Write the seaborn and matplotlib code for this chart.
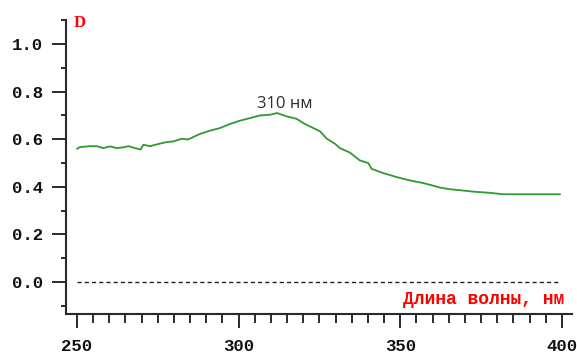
import matplotlib
matplotlib.use("Agg")
import matplotlib.pyplot as plt
from matplotlib.ticker import MultipleLocator
import seaborn as sns
import pandas as pd

# Absorption spectrum: wavelength (nm) and optical density D
wavelength = [250.0, 250.9, 254.0, 256.1, 258.1, 260.2, 262.3, 264.3, 265.9, 267.9,
              269.7, 270.5, 272.6, 275.1, 277.7, 279.8, 282.4, 284.4, 286.2, 288.0,
              291.1, 294.2, 297.3, 300.4, 303.5, 306.6, 309.7, 311.9, 314.9, 317.9,
              320.5, 323.1, 325.2, 327.2, 329.8, 331.3, 334.4, 337.5, 340.1, 341.1,
              344.7, 348.9, 353.0, 357.1, 360.2, 362.3, 365.4, 368.5, 372.5, 377.7,
              381.8, 399.4]
density = [0.560, 0.567, 0.571, 0.571, 0.563, 0.570, 0.563, 0.566, 0.571, 0.563,
           0.557, 0.577, 0.571, 0.580, 0.588, 0.591, 0.602, 0.599, 0.611, 0.622,
           0.636, 0.647, 0.664, 0.678, 0.689, 0.700, 0.703, 0.710, 0.696, 0.686,
           0.664, 0.647, 0.633, 0.603, 0.581, 0.563, 0.544, 0.511, 0.500, 0.476,
           0.458, 0.441, 0.427, 0.416, 0.405, 0.397, 0.390, 0.386, 0.380, 0.375,
           0.369, 0.369]

peak_nm = 310
x_ticks = [250, 300, 350, 400]
y_ticks = [0.0, 0.2, 0.4, 0.6, 0.8, 1.0]
x_title = "Длина волны, нм"
y_title = "D"

sns.set_style("ticks")
plt.rcParams["font.family"] = ["Liberation Mono", "DejaVu Sans Mono"]

df = pd.DataFrame({"wavelength": wavelength, "D": density})

fig = plt.figure(figsize=(5.77, 3.53), dpi=100)
ax = fig.add_axes([66 / 577, 1 - 314 / 353, (572 - 66) / 577, (314 - 20) / 353])

# zero baseline
ax.plot([250, 399], [0, 0], color="#222222", lw=1.0, ls=(0, (3, 2.2)), zorder=1)

sns.lineplot(data=df, x="wavelength", y="D", ax=ax, color="#2f9a2f",
             linewidth=1.3, zorder=2)

ax.set_xlim(246.6, 403.1)
ax.set_ylim(-0.134, 1.101)
ax.set_xticks(x_ticks)
ax.set_yticks(y_ticks)
ax.set_yticklabels([f"{v:.1f}" for v in y_ticks])
ax.xaxis.set_minor_locator(MultipleLocator(5))
ax.yaxis.set_minor_locator(MultipleLocator(0.1))

for side in ("top", "right"):
    ax.spines[side].set_visible(False)
for side in ("left", "bottom"):
    ax.spines[side].set_linewidth(1.5)
    ax.spines[side].set_color("#2a2a2a")

ax.tick_params(axis="both", which="major", length=10, width=1.4, color="#2a2a2a",
               labelsize=12.5, labelcolor="#111111")
ax.tick_params(axis="y", which="major", pad=6.5)
ax.tick_params(axis="x", which="major", pad=8)
ax.tick_params(axis="y", which="minor", length=3.6, width=1.4, color="#2a2a2a")
ax.tick_params(axis="x", which="minor", length=6.5, width=1.4, color="#2a2a2a")
for lbl in ax.get_xticklabels() + ax.get_yticklabels():
    lbl.set_fontweight("bold")

ax.set_xlabel("")
ax.set_ylabel("")

ax.text(564 / 577, 1 - 300 / 353, x_title, transform=fig.transFigure,
        ha="right", va="center", color="red", fontsize=13, fontweight="bold")
ax.text(80 / 577, 1 - 23 / 353, y_title, transform=fig.transFigure,
        ha="center", va="center", color="red", fontsize=12, fontweight="bold",
        family=["Liberation Serif", "DejaVu Serif"])

ax.text(314.3, 0.748, f"{peak_nm} нм", ha="center", va="center",
        color="#2b2c34", fontsize=12, family=["Open Sans", "DejaVu Sans"])

fig.savefig("out.png", dpi=100)
